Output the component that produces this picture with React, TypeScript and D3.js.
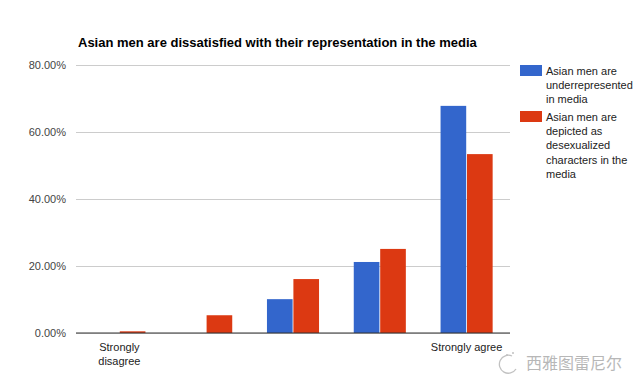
import React, { useEffect, useRef } from 'react';
import * as d3 from 'd3';

const categories = ['1', '2', '3', '4', '5'];
const categoryLabels = [['Strongly', 'disagree'], [], [], [], ['Strongly agree']];
const seriesNames = ['underrepresented', 'desexualized'];
const underrepresented = [0, 0, 10.1, 21.2, 67.8];
const desexualized = [0.5, 5.3, 16.1, 25.1, 53.4];
const yTicks = [0, 20, 40, 60, 80];
const legendLabels = [
  ['Asian men are', 'underrepresented', 'in media'],
  ['Asian men are', 'depicted as', 'desexualized', 'characters in the', 'media'],
];
const colors = ['#3366cc', '#dc3912'];

const App: React.FC = () => {
  const svgRef = useRef<SVGSVGElement>(null);

  useEffect(() => {
    if (!svgRef.current) return;
    const width = 640;
    const height = 390;
    const margin = { top: 65, right: 130, bottom: 57, left: 76 };
    const font = '"Liberation Sans", Arial, sans-serif';

    const svg = d3.select(svgRef.current);
    svg.selectAll('*').remove();

    const x0 = d3.scaleBand()
      .domain(categories)
      .range([margin.left, width - margin.right])
      .paddingInner(0.4)
      .paddingOuter(0.2);

    const x1 = d3.scaleBand()
      .domain(seriesNames)
      .range([0, x0.bandwidth()])
      .paddingInner(0.03);

    const y = d3.scaleLinear()
      .domain([0, 80])
      .range([height - margin.bottom, margin.top]);

    // Title
    svg.append('text')
      .attr('x', 78)
      .attr('y', 47)
      .attr('font-family', font)
      .attr('font-size', 13)
      .attr('font-weight', 'bold')
      .attr('fill', '#000')
      .text('Asian men are dissatisfied with their representation in the media');

    // Grid
    const grid = svg.append('g')
      .attr('transform', `translate(${margin.left},0)`)
      .call(d3.axisLeft(y).tickValues(yTicks).tickSize(-(width - margin.left - margin.right)).tickFormat(() => ''));
    grid.select('.domain').remove();
    grid.selectAll('line').attr('stroke', '#cccccc');

    // Y labels
    svg.append('g')
      .selectAll('text')
      .data(yTicks)
      .join('text')
      .attr('x', 66)
      .attr('y', d => y(d) + 4)
      .attr('text-anchor', 'end')
      .attr('font-family', font)
      .attr('font-size', 11)
      .attr('fill', '#444')
      .text(d => d3.format('.2f')(d) + '%');

    // Bars
    const data = categories.map((c, i) => ({ c, values: [underrepresented[i], desexualized[i]] }));
    const groups = svg.append('g')
      .selectAll('g')
      .data(data)
      .join('g')
      .attr('transform', d => `translate(${x0(d.c)},0)`);

    groups.selectAll('rect')
      .data(d => d.values.map((v, j) => ({ v, j })))
      .join('rect')
      .attr('x', d => x1(seriesNames[d.j])!)
      .attr('width', x1.bandwidth())
      .attr('y', d => y(d.v))
      .attr('height', d => y(0) - y(d.v))
      .attr('fill', d => colors[d.j]);

    // Baseline
    svg.append('line')
      .attr('x1', margin.left)
      .attr('x2', width - margin.right)
      .attr('y1', y(0))
      .attr('y2', y(0))
      .attr('stroke', '#333');

    // X labels
    const xl = svg.append('g')
      .selectAll('text')
      .data(categories)
      .join('text')
      .attr('x', d => x0(d)! + x0.bandwidth() / 2)
      .attr('y', 351)
      .attr('text-anchor', 'middle')
      .attr('font-family', font)
      .attr('font-size', 11)
      .attr('fill', '#222');
    xl.each(function (d, i) {
      const t = d3.select(this);
      categoryLabels[i].forEach((line, k) => {
        t.append('tspan')
          .attr('x', x0(d)! + x0.bandwidth() / 2)
          .attr('dy', k === 0 ? 0 : 14)
          .text(line);
      });
    });

    // Legend
    const legendTops = [65, 111];
    legendLabels.forEach((lines, i) => {
      const g = svg.append('g');
      g.append('rect')
        .attr('x', 520)
        .attr('y', legendTops[i])
        .attr('width', 22)
        .attr('height', 11)
        .attr('fill', colors[i]);
      const t = g.append('text')
        .attr('font-family', font)
        .attr('font-size', 11)
        .attr('fill', '#222');
      lines.forEach((line, k) => {
        t.append('tspan')
          .attr('x', 546)
          .attr('y', legendTops[i] + 10 + k * 14.2)
          .text(line);
      });
    });

    // Watermark
    const wm = svg.append('g').attr('opacity', 0.6);
    wm.append('path')
      .attr('d', 'M512,356 a9,9 0 1,0 4,13')
      .attr('fill', 'none')
      .attr('stroke', '#999')
      .attr('stroke-width', 1.3);
    wm.append('circle').attr('cx', 507).attr('cy', 355).attr('r', 1).attr('fill', '#999');
    wm.append('circle').attr('cx', 513).attr('cy', 353).attr('r', 1).attr('fill', '#999');
    wm.append('text')
      .attr('x', 526)
      .attr('y', 369)
      .attr('font-family', '"Noto Sans CJK SC", sans-serif')
      .attr('font-size', 16)
      .attr('fill', '#888')
      .text('西雅图雷尼尔');
  }, []);

  return (
    <svg
      ref={svgRef}
      width={640}
      height={390}
      viewBox="0 0 640 390"
      style={{ position: 'absolute', left: 0, top: 0, background: '#fff' }}
    />
  );
};

export default App;
